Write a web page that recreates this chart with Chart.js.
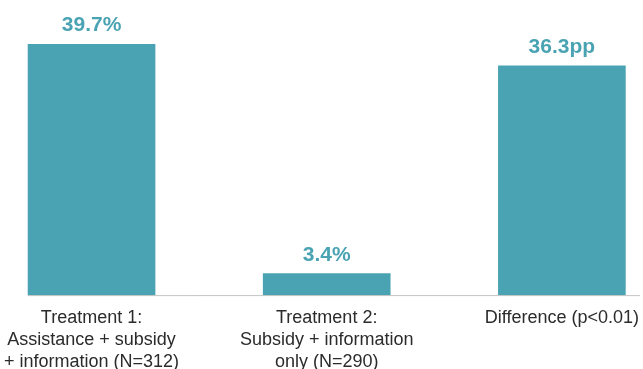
<!DOCTYPE html>
<html>
<head>
<meta charset="utf-8">
<script src="https://cdn.jsdelivr.net/npm/chart.js@4"></script>
<style>
    html, body { margin: 0; padding: 0; background: #fff; }
    #wrap { width: 643px; height: 369px; }
</style>
</head>
<body>
<div id="wrap"><canvas id="chart"></canvas></div>
<script>
// Chart data
const categories = [
    ['Treatment 1:', 'Assistance + subsidy', '+ information (N=312)'],
    ['Treatment 2:', 'Subsidy + information', 'only (N=290)'],
    'Difference (p<0.01)'
];
const values = [39.7, 3.4, 36.3];
const valueUnits = ['%', '%', 'pp'];
const yMax = 46.7;

const TEAL = '#4aa3b3';

// draws the value above each bar and the long baseline
const barLabels = {
    id: 'barLabels',
    afterDatasetsDraw(chart) {
        const { ctx } = chart;
        const meta = chart.getDatasetMeta(0);
        const yZero = chart.scales.y.getPixelForValue(0);

        // baseline from the first bar's left edge to the right side
        const first = meta.data[0];
        ctx.save();
        ctx.strokeStyle = '#c4c4c4';
        ctx.lineWidth = 1;
        ctx.beginPath();
        ctx.moveTo(first.x - first.width / 2, yZero + 0.5);
        ctx.lineTo(chart.width - 3, yZero + 0.5);
        ctx.stroke();

        ctx.fillStyle = TEAL;
        ctx.font = 'bold 21px "Liberation Sans", Arial, sans-serif';
        ctx.textAlign = 'center';
        ctx.textBaseline = 'alphabetic';
        meta.data.forEach((bar, i) => {
            ctx.fillText(values[i].toFixed(1) + valueUnits[i], bar.x, bar.y - 13);
        });
        ctx.restore();
    }
};

new Chart(document.getElementById('chart'), {
    type: 'bar',
    data: {
        labels: categories,
        datasets: [{
            data: values,
            backgroundColor: TEAL,
            barThickness: 127,
            clip: false
        }]
    },
    options: {
        responsive: true,
        maintainAspectRatio: false,
        animation: false,
        layout: { padding: { left: 90, right: 78, top: 0, bottom: -8 } },
        plugins: {
            legend: { display: false },
            tooltip: { enabled: false }
        },
        scales: {
            x: {
                offset: false,
                grid: { display: false },
                border: { display: false },
                ticks: {
                    color: '#2b2b2b',
                    padding: 4,
                    maxRotation: 0,
                    autoSkip: false,
                    font: { family: '"Liberation Sans", Arial, sans-serif', size: 18, lineHeight: 1.22 }
                }
            },
            y: {
                display: false,
                min: 0,
                max: yMax
            }
        }
    },
    plugins: [barLabels]
});
</script>
</body>
</html>
